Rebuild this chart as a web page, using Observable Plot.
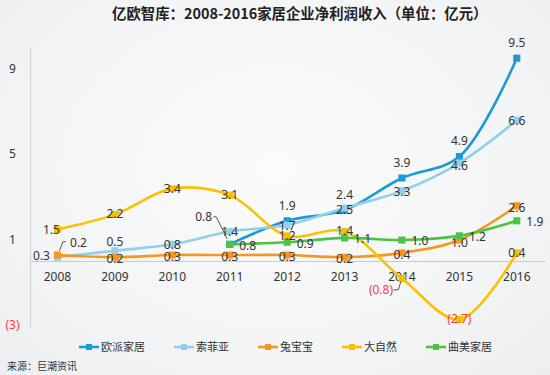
<!DOCTYPE html>
<html>
<head>
<meta charset="utf-8">
<script src="https://cdn.jsdelivr.net/npm/d3@7"></script>
<script src="https://cdn.jsdelivr.net/npm/@observablehq/plot@0.6"></script>
<style>
html,body{margin:0;padding:0;}
body{width:550px;height:375px;position:relative;overflow:hidden;
  background:radial-gradient(ellipse at 50% 45%, #fbfbfb 0%, #f4f5f6 60%, #eceef0 100%);
  font-family:"Noto Sans","Noto Sans CJK SC",sans-serif;}
#title{position:absolute;left:112px;top:2px;white-space:nowrap;font-size:14.4px;font-weight:bold;color:#222;line-height:22px;font-family:"Noto Sans CJK SC",sans-serif;}
#chart{position:absolute;left:0;top:0;}
#legend{position:absolute;left:79px;top:337px;display:flex;gap:29px;font-size:11px;color:#333;line-height:19px;font-family:"Noto Sans CJK SC",sans-serif;}
#legend .item{display:flex;align-items:center;}
#legend svg{margin-right:2px;}
#source{position:absolute;left:7px;top:358px;font-size:10px;color:#333;line-height:16px;font-family:"Noto Sans CJK SC",sans-serif;}
</style>
</head>
<body>
<div id="title">亿欧智库：2008-2016家居企业净利润收入（单位：亿元）</div>
<div id="chart"></div>
<div id="legend"></div>
<div id="source">来源：巨潮资讯</div>
<script>
// ---- data ----
const years = [2008, 2009, 2010, 2011, 2012, 2013, 2014, 2015, 2016];
const seriesNames = ["欧派家居", "索菲亚", "兔宝宝", "大自然", "曲美家居"];
const oupai    = [null, null, null, 0.8, 1.9, 2.4, 3.9, 4.9, 9.5];
const sofeiya  = [0.2, 0.5, 0.8, 1.4, 1.7, 2.5, 3.3, 4.6, 6.6];
const tubaobao = [0.3, 0.2, 0.3, 0.3, 0.3, 0.2, 0.4, 1.0, 2.6];
const daziran  = [1.5, 2.2, 3.4, 3.1, 1.2, 1.4, -0.8, -2.7, 0.4];
const qumei    = [null, null, null, 0.8, 0.9, 1.1, 1.0, 1.2, 1.9];
const yTicks = [9, 5, 1, -3];

// ---- styles ----
const colors = ["#1b9ad6", "#92d0ea", "#f7961e", "#fdc000", "#4cc343"];
const seriesValues = [oupai, sofeiya, tubaobao, daziran, qumei];
const red = "#ff3b3b";
const textColor = "#333";
const fmt = v => v < 0 ? `(${d3.format(".1f")(-v)})` : d3.format(".1f")(v);
const tickFmt = v => v < 0 ? `(${-v})` : `${v}`;

// label placement (pixel offsets) per series, with per-point overrides
const labelDefault = [
  {dx: 0, dy: -15},  // 欧派
  {dx: 0, dy: 1},    // 索菲亚
  {dx: 0, dy: 2},    // 兔宝宝
  {dx: 0, dy: 0},    // 大自然
  {dx: 18, dy: 1.5}  // 曲美
];
const labelOverride = {
  "0|2011": {dx: -26, dy: -27},
  "1|2008": {dx: 21, dy: -14},
  "1|2009": {dx: 0, dy: -9},
  "1|2013": {dx: 0, dy: 2.5},
  "1|2015": {dx: 0, dy: 3},
  "2|2008": {dx: -16, dy: 1},
  "2|2015": {dx: 0, dy: 3},
  "3|2008": {dx: -6, dy: 1},
  "3|2014": {dx: -21, dy: 12}
};
// leader lines: relative pixel polylines from the marker
const leaders = [
  {s: 0, year: 2011, pts: [[-16, -27], [-13, -27], [-2, -5]]},
  {s: 1, year: 2008, pts: [[9, -15], [6, -15], [2.5, -6]]},
  {s: 3, year: 2014, pts: [[-8, 12], [-3, 11.5], [-0.5, 3]]}
];

const rows = seriesNames.map((name, s) =>
  years.map((year, i) => ({s, series: name, year, value: seriesValues[s][i]}))
       .filter(d => d.value != null)
);

const marks = [];
// axis line and zero line
marks.push(Plot.frame({anchor: "left", stroke: "#d4d4d4", strokeWidth: 1.2}));
marks.push(Plot.ruleY([0], {stroke: "#c9c9c9", strokeWidth: 1}));
// y tick labels
marks.push(Plot.text(yTicks, {
  frameAnchor: "left", y: d => d, dx: -18, textAnchor: "middle",
  text: tickFmt, fill: d => d < 0 ? red : textColor, fontSize: 12
}));
// x tick labels
marks.push(Plot.text(years, {
  x: d => d, y: () => 0, dy: 16, text: d => `${d}`, fill: textColor, fontSize: 12
}));
// series lines and markers
rows.forEach((data, s) => {
  marks.push(Plot.line(data, {x: "year", y: "value", stroke: colors[s], strokeWidth: 2.6, curve: "catmull-rom"}));
  marks.push(Plot.dot(data, {x: "year", y: "value", symbol: "square", r: 4, fill: colors[s], stroke: "none"}));
});
// leader lines
marks.push((index, scales) => {
  const g = d3.create("svg:g").attr("fill", "none").attr("stroke", "#555").attr("stroke-width", 1);
  for (const l of leaders) {
    const v = seriesValues[l.s][years.indexOf(l.year)];
    const x0 = scales.x(l.year), y0 = scales.y(v);
    g.append("path").attr("d", "M" + l.pts.map(([dx, dy]) => `${x0 + dx},${y0 + dy}`).join("L"));
  }
  return g.node();
});
// data labels
rows.forEach((data, s) => {
  data.forEach(d => {
    const p = labelOverride[`${s}|${d.year}`] || labelDefault[s];
    marks.push(Plot.text([d], {
      x: "year", y: "value", dx: p.dx, dy: p.dy, text: r => fmt(r.value),
      fill: d.value < 0 ? red : textColor, fontSize: 12
    }));
  });
});

const chart = Plot.plot({
  width: 550,
  height: 375,
  marginLeft: 30,
  marginRight: 5,
  marginTop: 47,
  marginBottom: 49,
  style: {background: "transparent", fontFamily: '"Noto Sans","Noto Sans CJK SC",sans-serif'},
  x: {type: "linear", domain: [2007.53, 2016.5], axis: null},
  y: {domain: [-3.04, 10], axis: null},
  marks
});
document.getElementById("chart").appendChild(chart);

// legend
const legend = d3.select("#legend");
seriesNames.forEach((name, s) => {
  const item = legend.append("div").attr("class", "item");
  const svg = item.append("svg").attr("width", 20).attr("height", 10);
  svg.append("line").attr("x1", 0).attr("x2", 20).attr("y1", 5).attr("y2", 5)
     .attr("stroke", colors[s]).attr("stroke-width", 2.6);
  svg.append("rect").attr("x", 7).attr("y", 2).attr("width", 6).attr("height", 6).attr("fill", colors[s]);
  item.append("span").text(name);
});
</script>
</body>
</html>
